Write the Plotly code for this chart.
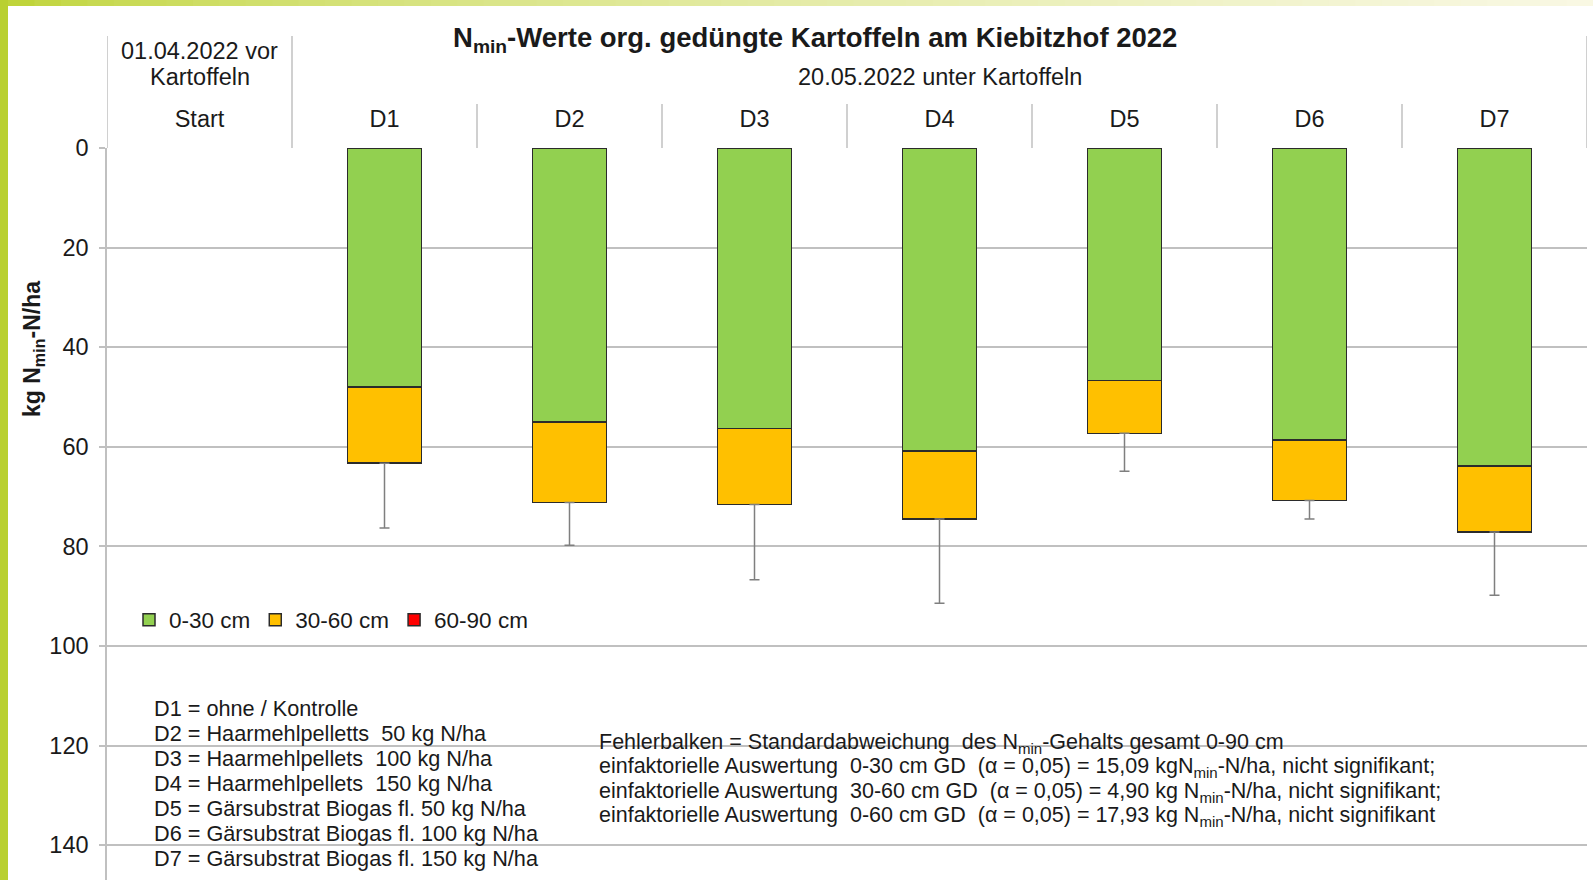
import plotly.graph_objects as go

# ---------------- data ----------------
categories = ["Start", "D1", "D2", "D3", "D4", "D5", "D6", "D7"]
treatments = ["D1", "D2", "D3", "D4", "D5", "D6", "D7"]
nmin_0_30 = [48.0, 55.0, 56.3, 60.8, 46.7, 58.6, 63.9]
nmin_30_60 = [15.3, 16.2, 15.3, 13.7, 10.6, 12.2, 13.2]
nmin_60_90 = [0, 0, 0, 0, 0, 0, 0]
std_dev = [13.0, 8.6, 15.1, 16.9, 7.6, 3.7, 12.7]
y_ticks = [0, 20, 40, 60, 80, 100, 120, 140]

legend_notes = [
    "D1 = ohne / Kontrolle",
    "D2 = Haarmehlpelletts  50 kg N/ha",
    "D3 = Haarmehlpellets  100 kg N/ha",
    "D4 = Haarmehlpellets  150 kg N/ha",
    "D5 = Gärsubstrat Biogas fl. 50 kg N/ha",
    "D6 = Gärsubstrat Biogas fl. 100 kg N/ha",
    "D7 = Gärsubstrat Biogas fl. 150 kg N/ha",
]
stat_notes = [
    "Fehlerbalken = Standardabweichung  des N<sub>min</sub>-Gehalts gesamt 0-90 cm",
    "einfaktorielle Auswertung  0-30 cm GD  (α = 0,05) = 15,09 kgN<sub>min</sub>-N/ha, nicht signifikant;",
    "einfaktorielle Auswertung  30-60 cm GD  (α = 0,05) = 4,90 kg N<sub>min</sub>-N/ha, nicht signifikant;",
    "einfaktorielle Auswertung  0-60 cm GD  (α = 0,05) = 17,93 kg N<sub>min</sub>-N/ha, nicht signifikant",
]

# ---------------- layout geometry (pixels) ----------------
W, H = 1593, 880
ML, MR, MT, MB = 107, 6, 148, 0
PW, PH = W - ML - MR, H - MT - MB


def px_x(p):
    return (p - ML) / PW


def px_y(p):
    return 1 - (p - MT) / PH


FONT = "Liberation Sans, Arial, sans-serif"
TXT = "#1a1a1a"
GRID = "#c0c0c0"
EDGE = "#2b2b2b"

totals = [a + b + c for a, b, c in zip(nmin_0_30, nmin_30_60, nmin_60_90)]

fig = go.Figure()
fig.add_trace(go.Bar(x=treatments, y=nmin_0_30, name="0-30 cm",
                     marker=dict(color="#92d050", line=dict(color=EDGE, width=1.5))))
fig.add_trace(go.Bar(x=treatments, y=nmin_30_60, name="30-60 cm",
                     marker=dict(color="#ffc000", line=dict(color=EDGE, width=1.5))))
fig.add_trace(go.Bar(x=treatments, y=nmin_60_90, name="60-90 cm",
                     marker=dict(color="#ff0000", line=dict(color=EDGE, width=1.5))))
fig.add_trace(go.Scatter(
    x=treatments, y=totals, mode="markers", marker=dict(opacity=0, size=1),
    showlegend=False, hoverinfo="skip",
    error_y=dict(type="data", symmetric=False, array=std_dev,
                 arrayminus=[0] * len(std_dev), color="#7f7f7f",
                 thickness=1.5, width=5)))

shapes = []
# frame: left band and top gradient band
shapes.append(dict(type="rect", xref="paper", yref="paper",
                   x0=px_x(0), x1=px_x(8), y0=px_y(H), y1=px_y(0),
                   fillcolor="#b9d030", line=dict(width=0), layer="above"))
nseg = 60
c0, c1 = (188, 210, 48), (249, 248, 228)
for i in range(nseg):
    t = ((i + 0.5) / nseg) ** 0.6
    col = "rgb(%d,%d,%d)" % tuple(round(a + (b - a) * t) for a, b in zip(c0, c1))
    shapes.append(dict(type="rect", xref="paper", yref="paper",
                       x0=px_x(8 + (W - 8) * i / nseg), x1=px_x(8 + (W - 8) * (i + 1) / nseg + 1),
                       y0=px_y(6), y1=px_y(0), fillcolor=col, line=dict(width=0),
                       layer="above"))
# header dividers
for k in range(len(categories) + 1):
    xv = k - 0.5
    top = 36 if k in (0, 1, len(categories)) else 104
    shapes.append(dict(type="line", xref="x", yref="paper", x0=xv, x1=xv,
                       y0=1, y1=px_y(top), line=dict(color=GRID, width=1.5)))

annotations = [
    dict(text="<b>N<sub>min</sub>-Werte org. gedüngte Kartoffeln am Kiebitzhof 2022</b>",
         xref="paper", yref="paper", x=px_x(815), y=px_y(39), showarrow=False,
         font=dict(size=27.5, color=TXT, family=FONT), xanchor="center", yanchor="middle"),
    dict(text="20.05.2022 unter Kartoffeln", xref="x", yref="paper", x=4, y=px_y(77),
         showarrow=False, yanchor="middle", font=dict(size=23.5, color=TXT, family=FONT)),
    dict(text="01.04.2022 vor", xref="x", yref="paper", x=0, y=px_y(51),
         showarrow=False, yanchor="middle", font=dict(size=23.5, color=TXT, family=FONT)),
    dict(text="Kartoffeln", xref="x", yref="paper", x=0, y=px_y(77),
         showarrow=False, yanchor="middle", font=dict(size=23.5, color=TXT, family=FONT)),
    dict(text="<b>kg N<sub>min</sub>-N/ha</b>", xref="paper", yref="paper",
         x=px_x(33), y=px_y(349), textangle=-90, showarrow=False,
         font=dict(size=23, color=TXT, family=FONT), xanchor="center", yanchor="middle"),
]
for i, line in enumerate(legend_notes):
    annotations.append(dict(text=line, xref="paper", yref="paper", x=px_x(152),
                            y=px_y(708 + 25.1 * i), xanchor="left", yanchor="middle",
                            showarrow=False, font=dict(size=21.7, color=TXT, family=FONT)))
for i, line in enumerate(stat_notes):
    annotations.append(dict(text=line, xref="paper", yref="paper", x=px_x(597),
                            y=px_y(743 + 24.6 * i), xanchor="left", yanchor="middle",
                            showarrow=False, font=dict(size=21.5, color=TXT, family=FONT)))

fig.update_layout(
    width=W, height=H,
    margin=dict(l=ML, r=MR, t=MT, b=MB, pad=0),
    paper_bgcolor="white", plot_bgcolor="white",
    barmode="stack", bargap=0.6,
    font=dict(family=FONT, size=21, color=TXT),
    showlegend=True,
    legend=dict(orientation="h", x=px_x(129), y=px_y(620), xanchor="left", yanchor="middle",
                font=dict(size=22.5, color=TXT, family=FONT), bgcolor="rgba(0,0,0,0)",
                itemwidth=30, traceorder="normal"),
    xaxis=dict(type="category", categoryorder="array", categoryarray=categories,
               range=[-0.5, len(categories) - 0.5], side="top",
               showgrid=False, showline=False, zeroline=False, ticks="",
               tickfont=dict(size=23.5, color=TXT, family=FONT), ticklabelstandoff=15),
    yaxis=dict(range=[147, 0], tickvals=y_ticks, showgrid=True, gridcolor=GRID,
               gridwidth=1.5, zeroline=False, showline=True, linecolor=GRID, linewidth=1.5,
               ticks="outside", ticklen=6, tickcolor=GRID, tickwidth=1.5,
               tickfont=dict(size=23.5, color=TXT, family=FONT), ticklabelstandoff=6),
    shapes=shapes, annotations=annotations,
)

fig.write_html("out.html", config={"displayModeBar": False},
               post_script="document.body.style.margin='0';document.body.style.overflow='hidden';")
